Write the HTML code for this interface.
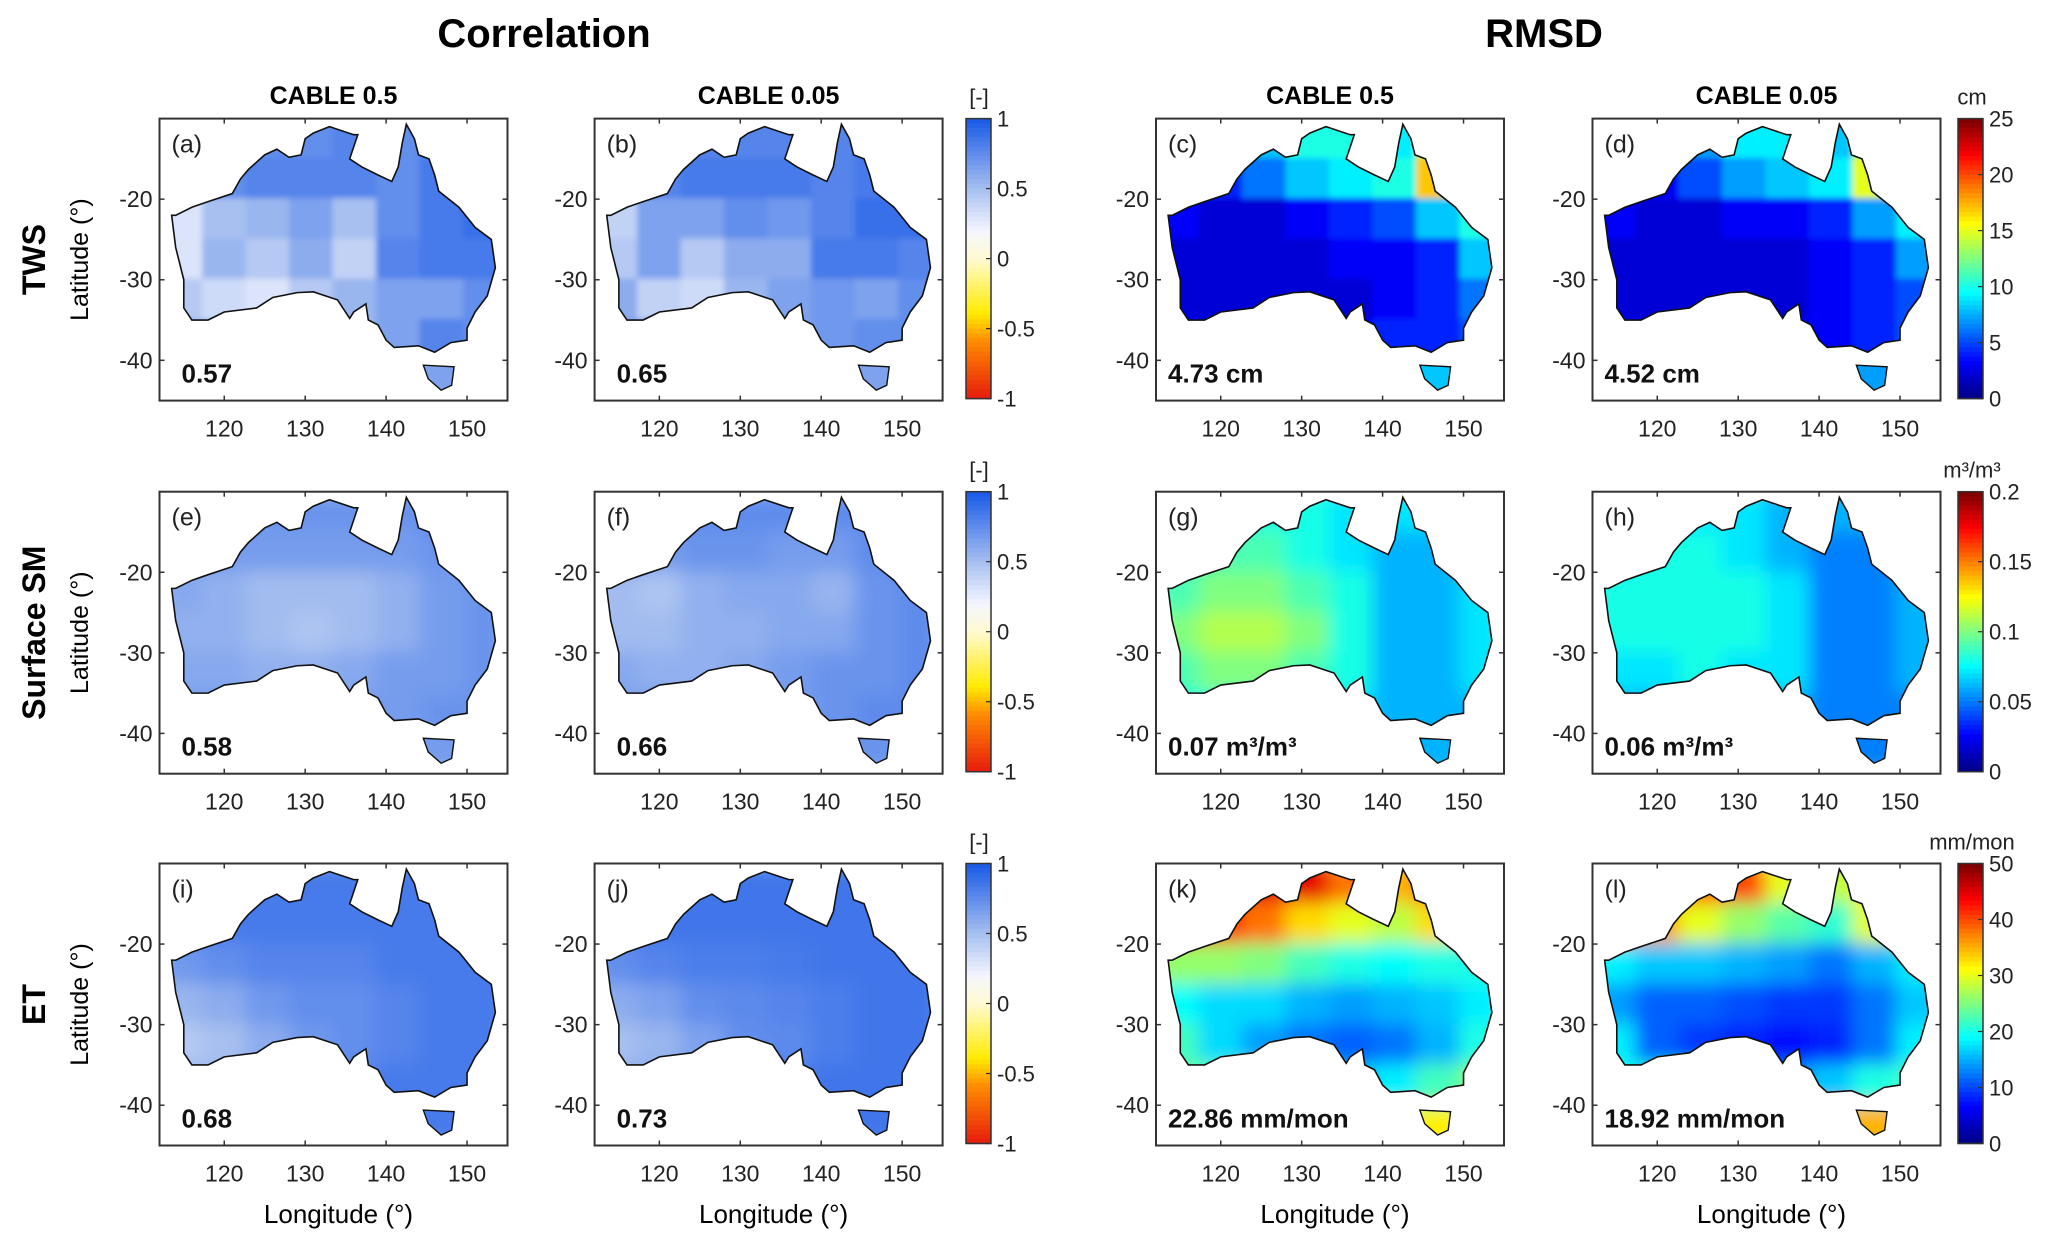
<!DOCTYPE html>
<html><head><meta charset="utf-8"><style>
html,body{margin:0;padding:0;background:#fff;}
svg{display:block;font-family:"Liberation Sans",sans-serif;}
</style></head><body>
<svg id="fig" width="2067" height="1250" viewBox="0 0 2067 1250" xmlns="http://www.w3.org/2000/svg">
<defs>
<filter id="blurS" x="-5%" y="-5%" width="110%" height="110%"><feGaussianBlur stdDeviation="3"/></filter>
<filter id="blurL" x="-5%" y="-5%" width="110%" height="110%"><feGaussianBlur stdDeviation="9"/></filter>
</defs>
</svg>
<script>
// ---- data ----
const panelLetters = ["a","b","c","d","e","f","g","h","i","j","k","l"];
const statLabels = ["0.57","0.65","4.73 cm","4.52 cm","0.58","0.66","0.07 m³/m³","0.06 m³/m³","0.68","0.73","22.86 mm/mon","18.92 mm/mon"];
const rowNames = ["TWS","Surface SM","ET"];
const colNames = ["CABLE 0.5","CABLE 0.05","CABLE 0.5","CABLE 0.05"];
const lonTicks = [120,130,140,150];
const latTicks = [-20,-30,-40];
const corrTicks = [1,0.5,0,-0.5,-1];
const twsTicks = [0,5,10,15,20,25];
const smTicks = [0,0.05,0.1,0.15,0.2];
const etTicks = [0,10,20,30,40,50];
// coarse gridded values, rows lat -10..-45 (5 deg), cols lon 112..155
const gridA = [[.75,.75,.75,.75,.8,.75,.8,.75],[.75,.75,.8,.8,.8,.75,.85,.85],[.3,.5,.55,.65,.5,.75,.85,.9],[.3,.55,.45,.6,.4,.8,.85,.85],[.45,.35,.3,.45,.55,.65,.65,.75],[.55,.55,.55,.55,.55,.65,.8,.75],[.55,.55,.55,.55,.55,.6,.65,.65]];
const gridB = [[.8,.8,.8,.8,.8,.8,.85,.8],[.8,.8,.85,.85,.85,.8,.85,.85],[.4,.65,.65,.75,.7,.8,.9,.9],[.45,.65,.45,.6,.6,.85,.85,.8],[.6,.4,.35,.55,.65,.7,.65,.75],[.65,.65,.65,.65,.65,.7,.75,.75],[.65,.65,.65,.65,.65,.65,.65,.65]];
const gridC = [[3,4,8,10,10,9,14,12],[3,4,6,8,9,10,17,14],[3,2,2,3,4,5,8,10],[2,2,2,2,3,3,4,8],[2,2,2,2,2,3,4,6],[3,3,3,3,3,4,4,5],[6,6,6,6,6,8,8,8]];
const gridD = [[3,4,7,9,9,8,13,11],[3,3,5,7,8,9,15,13],[3,2,2,3,3,4,7,9],[2,2,2,2,2,3,4,7],[2,2,2,2,2,3,4,5],[3,3,3,3,3,3,4,5],[6,6,6,6,6,7,7,7]];
const gridE = [[.72,.72,.72,.72,.72,.72,.75,.75],[.68,.68,.68,.68,.68,.68,.72,.75],[.62,.58,.52,.52,.52,.58,.68,.72],[.58,.58,.52,.48,.52,.58,.68,.72],[.62,.62,.58,.58,.62,.68,.68,.72],[.68,.68,.68,.68,.68,.68,.72,.72],[.68,.68,.68,.68,.68,.68,.68,.68]];
const gridF = [[.76,.76,.76,.76,.76,.76,.76,.76],[.72,.68,.72,.72,.68,.68,.76,.76],[.52,.48,.58,.62,.62,.56,.72,.76],[.52,.52,.58,.58,.62,.62,.72,.76],[.62,.58,.58,.62,.68,.72,.72,.76],[.68,.68,.68,.68,.68,.72,.76,.76],[.72,.72,.72,.72,.72,.72,.72,.72]];
const gridG = [[.08,.08,.08,.08,.07,.07,.07,.07],[.08,.09,.09,.08,.07,.06,.06,.07],[.09,.1,.1,.09,.08,.06,.06,.07],[.1,.11,.11,.1,.08,.06,.06,.07],[.09,.1,.1,.09,.08,.06,.06,.07],[.08,.08,.08,.08,.07,.06,.06,.06],[.06,.06,.06,.06,.06,.06,.06,.06]];
const gridH = [[.07,.07,.07,.07,.06,.06,.06,.06],[.07,.08,.08,.07,.06,.05,.05,.06],[.08,.08,.08,.08,.07,.05,.05,.06],[.08,.08,.08,.08,.07,.05,.05,.06],[.07,.07,.08,.07,.07,.05,.05,.06],[.06,.06,.06,.06,.06,.05,.05,.05],[.05,.05,.05,.05,.05,.05,.05,.05]];
const gridI = [[.85,.85,.85,.85,.85,.85,.85,.85],[.85,.85,.85,.85,.85,.85,.85,.85],[.7,.75,.8,.8,.8,.85,.85,.85],[.55,.6,.7,.75,.75,.8,.85,.85],[.45,.5,.6,.7,.75,.8,.85,.85],[.55,.55,.65,.75,.8,.85,.85,.85],[.75,.75,.75,.75,.8,.85,.85,.85]];
const gridJ = [[.87,.87,.87,.87,.87,.87,.87,.87],[.87,.87,.87,.87,.87,.87,.87,.87],[.75,.8,.83,.83,.85,.87,.87,.87],[.6,.65,.75,.77,.8,.83,.87,.87],[.5,.55,.65,.75,.77,.83,.87,.87],[.6,.6,.7,.77,.83,.87,.87,.87],[.8,.8,.8,.8,.83,.87,.87,.87]];
const gridK = [[45,45,45,45,38,35,38,35],[42,42,38,33,30,28,33,28],[26,26,25,22,20,19,20,20],[19,17,17,15,14,15,16,18],[22,17,14,12,11,12,15,20],[24,24,24,17,16,18,22,25],[30,30,30,30,30,30,32,32]];
const gridL = [[40,40,40,40,30,28,32,30],[38,36,30,26,23,21,30,24],[18,16,16,15,14,12,15,18],[14,11,11,10,9,9,12,16],[18,11,9,8,7,8,12,18],[20,20,20,13,13,16,20,22],[35,35,35,35,35,35,35,35]];
const grids = [gridA,gridB,gridC,gridD,gridE,gridF,gridG,gridH,gridI,gridJ,gridK,gridL];
// Australia outline (lon, lat)
const ausLon = [113.5,114,115,115,116,118,120,124,126,129,131,134,135.5,136,137.5,137.8,139,140,141,144,146,148,150,150,151,152.5,153.5,153,151,149,146.5,146,145.3,144,143.5,142.5,142,141.5,140.7,139,137,135.5,136.5,136,133,131,130,129.5,128,126.5,125,123,122,121,118,116,114];
const ausLat = [-22,-26,-30,-33.5,-35,-35,-34,-33.5,-32.2,-31.6,-31.5,-32.5,-34.8,-34,-33,-35,-35.6,-37.5,-38.4,-38.2,-39,-37.8,-37.5,-36,-34,-32,-28.5,-25,-23.5,-21,-19,-17,-15,-14.5,-12.5,-10.7,-13,-16,-17.8,-17,-16,-15,-12,-12,-11,-11.8,-12.5,-14.5,-14.8,-13.8,-14.5,-16.3,-17.5,-19.3,-20.3,-21,-22];
const tasLon = [144.6,148.4,148.1,146.8,145.2];
const tasLat = [-40.6,-40.8,-43.1,-43.7,-42.3];

// ---- layout ----
const colX = [159.5,594.6,1156,1592.5], rowY = [118.6,491.7,863.5], PW = 348, PH = 282;
const LON0 = 112, LON1 = 155, LAT0 = -10, LAT1 = -45;
const NS = "http://www.w3.org/2000/svg";
const svg = document.getElementById("fig");
function el(tag, attrs, parent, text){const e=document.createElementNS(NS,tag);for(const k in attrs)e.setAttribute(k,attrs[k]);if(text!==undefined)e.textContent=text;(parent||svg).appendChild(e);return e;}
function lerpC(stops, t){t=Math.max(0,Math.min(1,t));for(let i=1;i<stops.length;i++){if(t<=stops[i][0]){const a=stops[i-1],b=stops[i];const f=(t-a[0])/(b[0]-a[0]||1);const c=[0,1,2].map(j=>Math.round(a[1][j]+(b[1][j]-a[1][j])*f));return `rgb(${c})`;}}const l=stops[stops.length-1][1];return `rgb(${l})`;}
const corrStops=[[0,[232,32,12]],[0.2,[255,140,0]],[0.3,[255,235,0]],[0.5,[255,250,210]],[0.6,[244,246,255]],[0.75,[168,192,240]],[1,[28,92,232]]];
const jetStops=[[0,[0,0,140]],[0.125,[0,0,255]],[0.375,[0,255,255]],[0.625,[255,255,0]],[0.875,[255,0,0]],[1,[128,0,0]]];
const corrColor=v=>lerpC(corrStops,(v+1)/2);
const jetColor=(v,max)=>lerpC(jetStops,v/max);
const rowMax=[25,0.2,50];

// titles
let t=el("text",{x:544,y:47,"font-size":40,"font-weight":"bold","text-anchor":"middle"},svg,"Correlation");


t=el("text",{x:1544,y:47,"font-size":40,"font-weight":"bold","text-anchor":"middle"},svg,"RMSD");



colNames.forEach((n,c)=>{const e=el("text",{x:colX[c]+PW/2,y:104,"font-size":25,"font-weight":"bold","text-anchor":"middle"},svg,n);

});

rowNames.forEach((n,r)=>{const cy=rowY[r]+PH/2;
const e=el("text",{x:0,y:0,"font-size":32,"font-weight":"bold","text-anchor":"middle",transform:`translate(45,${cy}) rotate(-90)`},svg,n);


const l=el("text",{x:0,y:0,"font-size":25,"text-anchor":"middle",transform:`translate(88,${cy}) rotate(-90)`},svg,"Latitude (°)");

});

[0,1,2,3].forEach(c=>{const e=el("text",{x:colX[c]+PW/2+5,y:1223,"font-size":26,"text-anchor":"middle"},svg,"Longitude (°)");

});

function ptsStr(lons,lats,px,py){return lons.map((lo,i)=>`${px+(lo-LON0)/(LON1-LON0)*PW},${py+(LAT0-lats[i])/(LAT0-LAT1)*PH}`).join(" ");}

for(let r=0;r<3;r++)for(let c=0;c<4;c++){
 const idx=r*4+c, px=colX[c], py=rowY[r], g=grids[idx];
 const xs=lon=>px+(lon-LON0)/(LON1-LON0)*PW, ys=lat=>py+(LAT0-lat)/(LAT0-LAT1)*PH;
 const panel=el("g",{});
 
 
 el("rect",{x:px,y:py,width:PW,height:PH,fill:"#fff"},panel);
 const cp=el("clipPath",{id:"clip"+idx},panel);
 el("polygon",{points:ptsStr(ausLon,ausLat,px,py)},cp);
 el("polygon",{points:ptsStr(tasLon,tasLat,px,py)},cp);
 const clipG=el("g",{"clip-path":`url(#clip${idx})`},panel);
 const cells=el("g",{filter:r===0?"url(#blurS)":"url(#blurL)"},clipG);
 const cw=(LON1-LON0)/8, ch=5;
 g.forEach((row,i)=>row.forEach((v,j)=>{
  const col=c<2?corrColor(v):jetColor(v,rowMax[r]);
  const rc=el("rect",{x:xs(LON0+j*cw)-1,y:ys(LAT0-i*ch)-1,width:cw/(LON1-LON0)*PW+2,height:ch/(LAT0-LAT1)*PH+2,fill:col},cells);
  
  
 }));
 el("polygon",{points:ptsStr(ausLon,ausLat,px,py),fill:"none",stroke:"#111","stroke-width":1.6},panel);
 el("polygon",{points:ptsStr(tasLon,tasLat,px,py),fill:"none",stroke:"#111","stroke-width":1.4},panel);
 const fr=el("rect",{x:px,y:py,width:PW,height:PH,fill:"none",stroke:"#333","stroke-width":2},panel);
 
 
 lonTicks.forEach(lo=>{const x=xs(lo);el("line",{x1:x,y1:py,x2:x,y2:py+5,stroke:"#333","stroke-width":1.5},panel);el("line",{x1:x,y1:py+PH,x2:x,y2:py+PH-5,stroke:"#333","stroke-width":1.5},panel);
  const tl=el("text",{x:x,y:py+PH+36,"font-size":23,"text-anchor":"middle",fill:"#222"},panel,String(lo));
  
  });
 latTicks.forEach(la=>{const y=ys(la);el("line",{x1:px,y1:y,x2:px+5,y2:y,stroke:"#333","stroke-width":1.5},panel);el("line",{x1:px+PW,y1:y,x2:px+PW-5,y2:y,stroke:"#333","stroke-width":1.5},panel);
  const tl=el("text",{x:px-7,y:y+8,"font-size":23,"text-anchor":"end",fill:"#222"},panel,String(la));
  
  });
 const lt=el("text",{x:px+12,y:py+34,"font-size":25,fill:"#222"},panel,`(${panelLetters[idx]})`);
 
 
 const st=el("text",{x:px+(c>=2?12:22),y:py+PH-18,"font-size":26,"font-weight":"bold",fill:"#111"},panel,statLabels[idx]);
 
 
}

// colorbars
const cbX=[966,1958], cbW=25, cbH=280;
const units=["cm","m³/m³","mm/mon"];
const rmsdTicks=[twsTicks,smTicks,etTicks];
for(let r=0;r<3;r++)for(let k=0;k<2;k++){
 const x=cbX[k], y=rowY[r];
 const g=el("g",{});
 
 
 const n=60;
 for(let i=0;i<n;i++){const f=i/(n-1);const col=k===0?corrColor(1-2*f):jetColor(rowMax[r]*(1-f),rowMax[r]);
  el("rect",{x:x,y:y+i*cbH/n,width:cbW,height:cbH/n+0.6,fill:col},g);}
 el("rect",{x:x,y:y,width:cbW,height:cbH,fill:"none",stroke:"#333","stroke-width":1.5},g);
 const ticks=k===0?corrTicks:rmsdTicks[r];
 const vmin=k===0?-1:0, vmax=k===0?1:rowMax[r];
 ticks.forEach(v=>{const ty=y+(vmax-v)/(vmax-vmin)*cbH;
  el("line",{x1:x+cbW-5,y1:ty,x2:x+cbW,y2:ty,stroke:"#333","stroke-width":1.2},g);
  const tl=el("text",{x:x+cbW+6,y:ty+8,"font-size":22,fill:"#222"},g,String(v));
  
  });
 const u=el("text",{x:x+(k===0?13:14),y:y-14,"font-size":22,"text-anchor":"middle",fill:"#222"},g,k===0?"[-]":units[r]);
 
 
}
</script>
</body></html>
